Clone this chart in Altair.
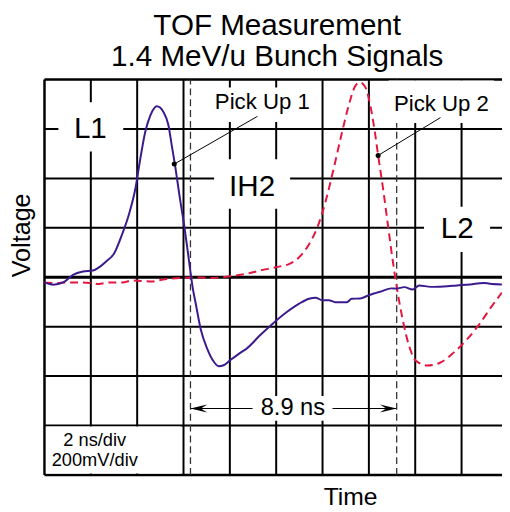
import altair as alt
import pandas as pd

FONT = "Liberation Sans"
X_MAX = 19.745  # visible part of the 10-division screen (2 ns/div)

# grid (2 ns/div, 200 mV/div)
grid_t = [0, 2, 4, 6, 8, 10, 12, 14, 16, 18]
grid_v = [-800, -600, -400, -200, 0, 200, 400, 600, 800]

# Pick Up 1 trace (solid purple): time [ns], voltage [mV]
pu1_t = [0.00, 0.38, 0.81, 1.23, 1.66, 2.09, 2.30, 2.65, 3.01, 3.36, 3.65, 3.93, 4.14, 4.35, 4.57,
         4.85, 5.14, 5.35, 5.49, 5.63, 5.84, 6.06, 6.27, 6.41, 6.52, 6.74, 7.02, 7.31, 7.52, 7.73,
         8.01, 8.51, 8.72, 9.29, 9.86, 10.43, 10.99, 11.42, 11.70, 11.99, 12.27, 12.55, 13.05, 13.26,
         13.62, 13.97, 14.54, 14.97, 15.18, 15.53, 15.89, 16.17, 16.67, 17.23, 17.80, 18.37, 18.94,
         19.22, 19.74]
pu1_v = [-21, -30, -21, 10, 23, 27, 37, 63, 97, 176, 256, 362, 482, 589, 655,
         692, 668, 615, 535, 456, 322, 190, 43, -50, -103, -209, -289, -342, -360, -356,
         -336, -302, -289, -236, -187, -143, -107, -87, -83, -93, -93, -101, -101, -87,
         -86, -74, -57, -45, -46, -40, -50, -33, -39, -37, -33, -29, -23,
         -26, -29]

# Pick Up 2 trace (dashed red)
pu2_t = [0.00, 0.52, 0.92, 1.37, 1.94, 2.34, 2.80, 3.36, 3.79, 4.64, 5.06, 5.91, 6.77, 7.16, 8.16,
         8.72, 9.29, 10.00, 10.57, 10.99, 11.42, 11.77, 12.13, 12.48, 12.84, 13.12, 13.40, 13.59,
         13.83, 14.04, 14.26, 14.40, 14.61, 14.82, 15.03, 15.25, 15.46, 15.74, 16.03, 16.52, 17.09,
         17.66, 18.23, 18.80, 19.29, 19.74]
pu2_v = [-22, -23, -21, -21, -23, -27, -21, -21, -13, -17, -10, -3, -1, -3, 6,
         14, 27, 41, 54, 81, 134, 200, 306, 440, 586, 692, 772, 789,
         772, 705, 586, 493, 360, 213, 67, -66, -172, -279, -338, -357, -345,
         -305, -252, -186, -119, -62]

# time-of-flight markers
tof_t = [6.3, 15.2]
tof_label = "8.9 ns"
tof_label_t = 10.72
tof_label_v = -557
arrow_v = -531

# annotations
big_labels = ["L1", "IH2", "L2"]
big_t = [1.98, 8.96, 17.81]
big_v = [562, 329, 158]

pick_labels = ["Pick Up 1", "Pick Up 2"]
pick_t = [9.40, 17.13]
pick_v = [680, 672]
pick_dot_t = [5.60, 14.40]
pick_dot_v = [458, 493]
pick_end_t = [9.19, 17.09]
pick_end_v = [651, 646]

div_labels = ["2 ns/div", "200mV/div"]
div_t = [2.17, 2.17]
div_v = [-684, -764]

# white label backgrounds
box_t1 = [0.60, 7.32, 16.38, 7.11, 14.85, 8.98, 0.06]
box_t2 = [3.40, 10.60, 19.23, 11.62, 19.40, 12.43, 5.87]
box_v1 = [509, 277, 102, 628, 624, -581, -794]
box_v2 = [708, 477, 285, 768, 796, -481, -604]

PURPLE = "#3b1a8e"
RED = "#e3163f"

vgrid = pd.DataFrame({"t": grid_t, "v": -800, "v2": 800,
                      "w": [2.5 if t == 0 else 2 for t in grid_t]})
hgrid = pd.DataFrame({"v": grid_v, "t": 0, "t2": X_MAX,
                      "w": [3 if v == 0 else (2.5 if abs(v) == 800 else 2) for v in grid_v]})
pu1 = pd.DataFrame({"t": pu1_t, "v": pu1_v})
pu2 = pd.DataFrame({"t": pu2_t, "v": pu2_v})
tofdf = pd.DataFrame({"t": tof_t, "v": -800, "v2": 800})
arrow = pd.DataFrame({"t": [tof_t[0]], "t2": [tof_t[1]], "v": [arrow_v]})
head_l = pd.DataFrame({"t": [tof_t[0]], "v": [arrow_v]})
head_r = pd.DataFrame({"t": [tof_t[1]], "v": [arrow_v]})
boxes = pd.DataFrame({"t": box_t1, "t2": box_t2, "v": box_v1, "v2": box_v2})
big = pd.DataFrame({"t": big_t, "v": big_v, "label": big_labels})
picks = pd.DataFrame({"t": pick_t, "v": pick_v, "label": pick_labels})
plines = pd.DataFrame({"t": pick_dot_t, "v": pick_dot_v, "t2": pick_end_t, "v2": pick_end_v})
divs = pd.DataFrame({"t": div_t, "v": div_v, "label": div_labels})
toftxt = pd.DataFrame({"t": [tof_label_t], "v": [tof_label_v], "label": [tof_label]})

L_HEAD = "M-1,0L1,-0.47L0.25,0L1,0.47Z"
R_HEAD = "M1,0L-1,-0.47L-0.25,0L-1,0.47Z"

layers = [
    alt.Chart(vgrid).mark_rule(color="black").encode(
        y2="v2:Q", strokeWidth=alt.StrokeWidth("w:Q", scale=None)),
    alt.Chart(hgrid).mark_rule(color="black").encode(
        x2="t2:Q", strokeWidth=alt.StrokeWidth("w:Q", scale=None)),
    alt.Chart(arrow).mark_rule(color="black", strokeWidth=1.2).encode(x2="t2:Q"),
    alt.Chart(tofdf).mark_rule(color="#333333", strokeWidth=1.3, strokeDash=[7, 4]).encode(y2="v2:Q"),
    alt.Chart(boxes).mark_rect(color="white", opacity=1).encode(x2="t2:Q", y2="v2:Q"),
    alt.Chart(pu2).mark_line(color=RED, strokeWidth=2, strokeDash=[8, 5], interpolate="monotone"),
    alt.Chart(pu1).mark_line(color=PURPLE, strokeWidth=2, interpolate="monotone"),
    alt.Chart(plines).mark_rule(color="black", strokeWidth=1).encode(x2="t2:Q", y2="v2:Q"),
    alt.Chart(plines).mark_point(shape="circle", filled=True, color="black", size=26, opacity=1),
    alt.Chart(head_l).mark_point(shape=L_HEAD, filled=True, color="black", size=289, opacity=1, xOffset=8.5),
    alt.Chart(head_r).mark_point(shape=R_HEAD, filled=True, color="black", size=289, opacity=1, xOffset=-8.5),
    alt.Chart(big).mark_text(font=FONT, fontSize=30, color="black", align="center",
                             baseline="alphabetic").encode(text="label:N"),
    alt.Chart(picks).mark_text(font=FONT, fontSize=22.5, color="black", align="center",
                               baseline="alphabetic").encode(text="label:N"),
    alt.Chart(divs).mark_text(font=FONT, fontSize=18.5, color="black", align="center",
                              baseline="alphabetic").encode(text="label:N"),
    alt.Chart(toftxt).mark_text(font=FONT, fontSize=24, color="black", align="center",
                                baseline="alphabetic").encode(text="label:N"),
]

chart = alt.layer(*layers).encode(
    x=alt.X("t:Q", scale=alt.Scale(domain=[0, X_MAX], nice=False, zero=False),
            axis=alt.Axis(title="Time", labels=False, ticks=False, domain=False, grid=False,
                          titleFont=FONT, titleFontSize=25, titleFontWeight="normal",
                          titleColor="black", titleX=310, titleY=30, titleAlign="center",
                          titleBaseline="alphabetic")),
    y=alt.Y("v:Q", scale=alt.Scale(domain=[-800, 800], nice=False, zero=False),
            axis=alt.Axis(title="Voltage", labels=False, ticks=False, domain=False, grid=False,
                          titleFont=FONT, titleFontSize=25.5, titleFontWeight="normal",
                          titleColor="black", titleAngle=270, titleX=-15, titleY=157.5,
                          titleAlign="center", titleBaseline="alphabetic")),
).properties(
    width=464, height=401,
    title=alt.TitleParams(text=["TOF Measurement", "1.4 MeV/u Bunch Signals"], font=FONT,
                          fontSize=30, fontWeight="normal", color="black", anchor="middle",
                          lineHeight=32, baseline="bottom", offset=6, dx=4, dy=30),
    autosize=alt.AutoSizeParams(type="none"),
    padding={"left": 37, "top": 69, "right": 0, "bottom": 33},
).configure_view(stroke=None).configure(background="white")

chart.save("out.html", embed_options={"renderer": "svg", "actions": False})
